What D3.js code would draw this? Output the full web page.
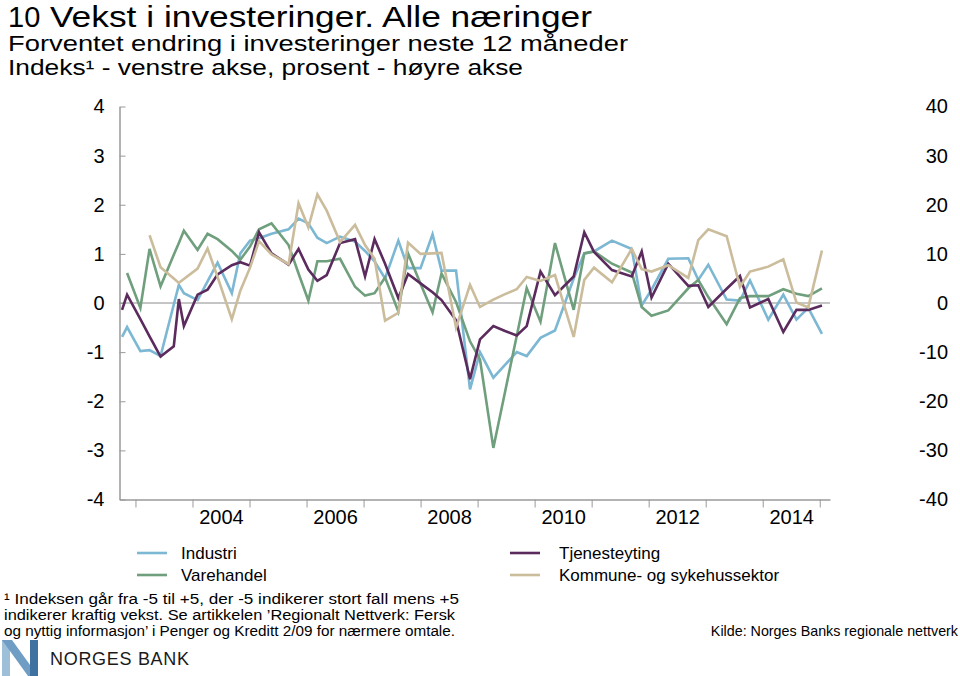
<!DOCTYPE html>
<html>
<head>
<meta charset="utf-8">
<script src="https://cdn.jsdelivr.net/npm/d3@7"></script>
<style>
  html, body { margin: 0; padding: 0; background: #fff; }
  svg { display: block; font-family: "Liberation Sans", Arial, Helvetica, sans-serif; }
</style>
</head>
<body>
<svg id="chart" width="960" height="676"></svg>
<script>
// ---- data (decimal years of each survey round) ----
const dates = [2002.765, 2002.853, 2003.086, 2003.247, 2003.440, 2003.672, 2003.761, 2003.849,
  2004.089, 2004.264, 2004.440, 2004.690, 2004.839, 2005.009, 2005.167, 2005.386, 2005.685,
  2005.860, 2006.032, 2006.190, 2006.354, 2006.588, 2006.851, 2007.026, 2007.193, 2007.377,
  2007.610, 2007.780, 2007.999, 2008.210, 2008.367, 2008.622, 2008.867, 2009.042, 2009.276,
  2009.481, 2009.686, 2009.861, 2010.103, 2010.357, 2010.685, 2010.871, 2011.041, 2011.357,
  2011.703, 2011.878, 2012.050, 2012.344, 2012.695, 2012.870, 2013.046, 2013.368, 2013.601,
  2013.777, 2014.098, 2014.361, 2014.592, 2014.799, 2015.039];

const industri = [-0.69, -0.49, -0.98, -0.96, -1.08, -0.03, 0.37, 0.20,
  0.06, 0.44, 0.82, 0.20, 1.01, 1.27, 1.32, 1.41, 1.50,
  1.72, 1.62, 1.33, 1.22, 1.35, 1.25, 1.06, 0.85, 0.50,
  1.27, 0.71, 0.71, 1.40, 0.66, 0.66, -1.76, -1.00, -1.52,
  -1.26, -1.00, -1.08, -0.71, -0.56, 0.50, 1.01, 1.05, 1.27,
  1.10, -0.05, 0.27, 0.90, 0.91, 0.47, 0.78, 0.07, 0.05,
  0.46, -0.34, 0.17, -0.34, -0.10, -0.63];

const varehandel = [null, 0.61, -0.10, 1.10, 0.34, 0.98, 1.22, 1.47,
  1.08, 1.41, 1.30, 1.06, 0.88, 1.15, 1.50, 1.62, 1.18,
  0.60, 0.05, 0.85, 0.85, 0.90, 0.33, 0.15, 0.20, 0.52,
  -0.17, 1.01, 0.39, -0.19, 0.60, 0.02, -0.78, -1.15, -2.95,
  -1.81, -0.67, 0.30, -0.38, 1.22, -0.14, 1.01, 1.05, 0.80,
  0.62, -0.08, -0.26, -0.15, 0.30, 0.47, 0.12, -0.43, 0.10,
  0.14, 0.14, 0.28, 0.19, 0.14, 0.30];

const tjenesteyting = [-0.14, 0.17, -0.33, -0.68, -1.09, -0.88, 0.08, -0.47,
  0.17, 0.27, 0.58, 0.77, 0.83, 0.76, 1.44, 1.01, 0.78,
  1.10, 0.68, 0.45, 0.57, 1.22, 1.30, 0.54, 1.30, 0.80,
  0.10, 0.59, 0.40, 0.22, 0.06, -0.35, -1.55, -0.74, -0.47,
  -0.57, -0.66, -0.47, 0.64, 0.16, 0.54, 1.44, 1.04, 0.67,
  0.54, 1.05, 0.11, 0.80, 0.35, 0.36, -0.08, 0.29, 0.55,
  -0.09, 0.08, -0.59, -0.14, -0.14, -0.05];

const kommune = [null, null, null, 1.38, 0.73, 0.50, 0.41, 0.49,
  0.70, 1.11, 0.53, -0.33, 0.25, 0.72, 1.26, 0.99, 0.79,
  2.03, 1.54, 2.21, 1.88, 1.24, 1.59, 1.18, 0.90, -0.36,
  -0.20, 1.23, 1.00, 1.01, 1.02, -0.50, 0.37, -0.08, 0.07,
  0.18, 0.28, 0.53, 0.45, 0.57, -0.69, 0.47, 0.72, 0.42,
  1.10, 0.69, 0.64, 0.77, 0.51, 1.28, 1.50, 1.36, 0.33,
  0.64, 0.74, 0.89, 0.01, -0.09, 1.07];

const seriesNames = ["Industri", "Varehandel", "Tjenesteyting", "Kommune- og sykehussektor"];
const seriesColors = ["#7cb7d3", "#6f9f7d", "#5b2b5d", "#cbbc9c"];
const seriesValues = [industri, varehandel, tjenesteyting, kommune];

const leftTicks = [4, 3, 2, 1, 0, -1, -2, -3, -4];
const rightTicks = [40, 30, 20, 10, 0, -10, -20, -30, -40];
const yearTicks = d3.range(2003, 2016);
const yearLabels = [2004, 2006, 2008, 2010, 2012, 2014];

// ---- layout ----
const svg = d3.select("#chart");
const x = d3.scaleLinear().domain([2002.72, 2015.18]).range([119.5, 830]);
const y = d3.scaleLinear().domain([-4, 4]).range([499.5, 106.5]);
const yR = d3.scaleLinear().domain([-40, 40]).range([499.5, 106.5]);
const gray = "#9a9a9a";
const plain = d => String(d);   // hyphen-minus as in the original

// titles (the original face is wider than Liberation Sans, so stretch to its widths)
function wideText(px, py, fs, width, str) {
  return svg.append("text").attr("x", px).attr("y", py).attr("font-size", fs)
    .attr("textLength", width).attr("lengthAdjust", "spacingAndGlyphs").text(str);
}
svg.append("text").attr("x", 8).attr("y", 27).attr("font-size", 29).text("10");
wideText(50, 27, 29, 542, "Vekst i investeringer. Alle næringer");
wideText(8, 51, 21.5, 620, "Forventet endring i investeringer neste 12 måneder");
wideText(8, 75, 21.5, 515, "Indeks¹ - venstre akse, prosent - høyre akse");

// zero line
svg.append("line").attr("x1", x.range()[0]).attr("x2", x.range()[1])
  .attr("y1", y(0)).attr("y2", y(0)).attr("stroke", "#8c8c8c").attr("stroke-width", 1);

// left axis
const gL = svg.append("g").attr("transform", `translate(${x.range()[0]},0)`)
  .call(d3.axisLeft(y).tickValues(leftTicks).tickFormat(plain).tickSizeInner(-6).tickSizeOuter(0).tickPadding(15));
gL.select(".domain").attr("stroke", gray).attr("stroke-width", 1.5);
gL.selectAll(".tick line").attr("stroke", gray);
gL.selectAll(".tick text").attr("font-size", 20).attr("font-family", "Liberation Sans, Arial, sans-serif").attr("fill", "#000");

// right axis labels only
const gR = svg.append("g").attr("transform", "translate(948,0)")
  .call(d3.axisLeft(yR).tickValues(rightTicks).tickFormat(plain).tickSize(0).tickPadding(0));
gR.select(".domain").remove();
gR.selectAll(".tick text").attr("font-size", 20).attr("font-family", "Liberation Sans, Arial, sans-serif").attr("fill", "#000");

// bottom axis: year ticks + mid-year labels
const gB = svg.append("g").attr("transform", `translate(0,${y(-4)})`)
  .call(d3.axisBottom(x).tickValues(yearTicks).tickSizeInner(8).tickSizeOuter(0).tickFormat(""));
gB.select(".domain").attr("stroke", gray).attr("stroke-width", 1.5);
gB.selectAll(".tick line").attr("stroke", gray);
const gBL = svg.append("g").attr("transform", `translate(0,${y(-4)})`)
  .call(d3.axisBottom(x).tickValues(yearLabels.map(v => v + 0.5)).tickSize(0).tickPadding(10)
    .tickFormat((d) => String(Math.floor(d))));
gBL.select(".domain").remove();
gBL.selectAll(".tick text").attr("font-size", 20).attr("font-family", "Liberation Sans, Arial, sans-serif").attr("fill", "#000");

// lines
const line = d3.line()
  .defined(d => d.v !== null)
  .x(d => x(d.t))
  .y(d => y(d.v));
seriesValues.forEach((vals, i) => {
  const pts = dates.map((t, j) => ({ t, v: vals[j] }));
  svg.append("path").datum(pts)
    .attr("fill", "none")
    .attr("stroke", seriesColors[i])
    .attr("stroke-width", 2.6)
    .attr("stroke-linejoin", "miter")
    .attr("d", line);
});

// legend
const legendPos = [[137, 553, 181], [137, 575, 181], [510, 553, 559], [510, 575, 559]];
seriesNames.forEach((name, i) => {
  const [lx, ly, tx] = legendPos[i];
  svg.append("line").attr("x1", lx).attr("x2", lx + 30).attr("y1", ly).attr("y2", ly)
    .attr("stroke", seriesColors[i]).attr("stroke-width", 2.6);
  svg.append("text").attr("x", tx).attr("y", ly + 6).attr("font-size", 17).text(name);
});

// footnote
const foot = [
  "¹ Indeksen går fra -5 til +5, der -5 indikerer stort fall mens +5",
  "indikerer kraftig vekst. Se artikkelen ’Regionalt Nettverk: Fersk",
  "og nyttig informasjon’ i Penger og Kreditt 2/09 for nærmere omtale."
];
const footW = [455, 451, 451];
foot.forEach((t, i) => {
  svg.append("text").attr("x", 4).attr("y", 604 + i * 16).attr("font-size", 15.5)
    .attr("textLength", footW[i]).attr("lengthAdjust", "spacingAndGlyphs").text(t);
});
svg.append("text").attr("x", 958).attr("y", 636).attr("text-anchor", "end").attr("font-size", 14.3)
  .text("Kilde: Norges Banks regionale nettverk");

// Norges Bank logo
const logo = svg.append("g");
logo.append("polygon").attr("points", "2,640 10,640 10,676 2,676").attr("fill", "#9dbfd8");
logo.append("polygon").attr("points", "2,640 12,640 38,676 28,676").attr("fill", "#6f9dc4");
logo.append("polygon").attr("points", "30,640 38,640 38,676 30,676").attr("fill", "#3f72a0");
svg.append("text").attr("x", 50).attr("y", 665).attr("font-size", 18).attr("letter-spacing", 0.7)
  .attr("fill", "#1a1a1a").text("NORGES BANK");
</script>
</body>
</html>
